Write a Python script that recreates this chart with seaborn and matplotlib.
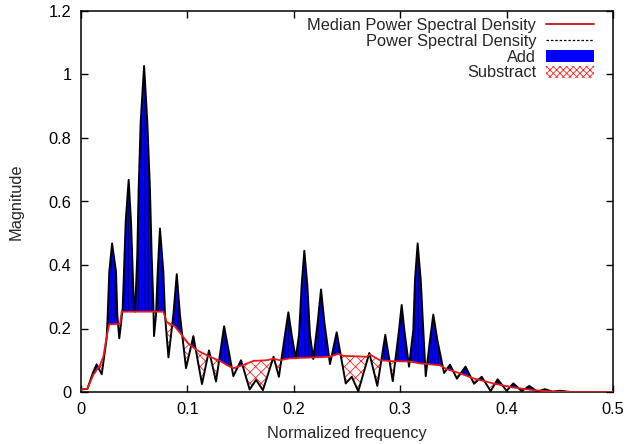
import numpy as np
import pandas as pd
import matplotlib
matplotlib.use("Agg")
import matplotlib.pyplot as plt
import seaborn as sns
from matplotlib.lines import Line2D
from matplotlib.patches import Patch

# ---- data ----
psd_x = [0, 0.006, 0.0116, 0.0147, 0.0195, 0.0241, 0.0251, 0.0266, 0.0292, 0.0329,
         0.0341, 0.036, 0.0392, 0.0404, 0.042, 0.0448, 0.047, 0.0486, 0.0498, 0.0508,
         0.0529, 0.0542, 0.0561, 0.0593, 0.0623, 0.0648, 0.0664, 0.0681, 0.0686, 0.0705,
         0.0721, 0.0742, 0.0774, 0.0789, 0.0822, 0.0868, 0.090, 0.093, 0.0987, 0.1056,
         0.1137, 0.1203, 0.1269, 0.1345, 0.1432, 0.1504, 0.1585, 0.1645, 0.171, 0.181,
         0.186, 0.1917, 0.1949, 0.198, 0.2018, 0.2049, 0.2074, 0.2099, 0.2127, 0.2152,
         0.2183, 0.2225, 0.2256, 0.2287, 0.234, 0.2403, 0.2488, 0.2545, 0.2606, 0.271,
         0.2785, 0.286, 0.293, 0.2989, 0.3014, 0.3039, 0.3083, 0.3123, 0.3139, 0.3164,
         0.3193, 0.3217, 0.324, 0.328, 0.3311, 0.3349, 0.3412, 0.3468, 0.3533, 0.3614,
         0.3694, 0.3766, 0.385, 0.3916, 0.400, 0.4063, 0.4142, 0.4213, 0.4289, 0.436,
         0.443, 0.450, 0.460, 0.500]
psd_y = [0.008, 0.010, 0.064, 0.087, 0.056, 0.169, 0.243, 0.379, 0.468, 0.379,
         0.243, 0.169, 0.265, 0.379, 0.536, 0.668, 0.536, 0.379, 0.265, 0.253,
         0.430, 0.640, 0.852, 1.027, 0.852, 0.640, 0.430, 0.264, 0.176, 0.243,
         0.379, 0.515, 0.379, 0.243, 0.109, 0.243, 0.371, 0.243, 0.075, 0.176,
         0.025, 0.131, 0.033, 0.207, 0.050, 0.100, 0.008, 0.038, 0.006, 0.111,
         0.048, 0.180, 0.251, 0.180, 0.106, 0.180, 0.337, 0.445, 0.337, 0.180,
         0.104, 0.221, 0.323, 0.221, 0.088, 0.188, 0.027, 0.048, 0.002, 0.123,
         0.019, 0.180, 0.034, 0.195, 0.274, 0.195, 0.080, 0.195, 0.353, 0.468,
         0.353, 0.195, 0.050, 0.164, 0.244, 0.164, 0.060, 0.086, 0.042, 0.080,
         0.026, 0.048, 0.003, 0.040, 0.004, 0.027, 0.003, 0.019, 0.001, 0.009,
         0.001, 0.004, 0.000, 0.000]

med_x = [0, 0.006, 0.0116, 0.0179, 0.021, 0.0241, 0.0265, 0.0367, 0.0382, 0.0774,
         0.0805, 0.0883, 0.0946, 0.1009, 0.1087, 0.1212, 0.1306, 0.137, 0.143, 0.1525,
         0.162, 0.1745, 0.181, 0.187, 0.196, 0.234, 0.2418, 0.2466, 0.2685, 0.2716,
         0.281, 0.2935, 0.3092, 0.3186, 0.3374, 0.3437, 0.356, 0.3687, 0.3875, 0.4063,
         0.425, 0.444, 0.46, 0.5]
med_y = [0.008, 0.010, 0.054, 0.085, 0.111, 0.174, 0.213, 0.214, 0.253, 0.253,
         0.221, 0.206, 0.180, 0.153, 0.132, 0.111, 0.098, 0.085, 0.075, 0.085,
         0.098, 0.100, 0.105, 0.100, 0.106, 0.111, 0.120, 0.114, 0.111, 0.118,
         0.100, 0.097, 0.096, 0.090, 0.084, 0.072, 0.059, 0.043, 0.027, 0.014,
         0.006, 0.001, 0.000, 0.000]

x_ticks = [0, 0.1, 0.2, 0.3, 0.4, 0.5]
x_tick_labels = ["0", "0.1", "0.2", "0.3", "0.4", "0.5"]
y_ticks = [0, 0.2, 0.4, 0.6, 0.8, 1.0, 1.2]
y_tick_labels = ["0", "0.2", "0.4", "0.6", "0.8", "1", "1.2"]
legend_labels = ["Median Power Spectral Density", "Power Spectral Density", "Add", "Substract"]

# ---- style ----
sns.set_style("ticks")
plt.rcParams["font.family"] = ["Liberation Sans", "DejaVu Sans"]
plt.rcParams["hatch.linewidth"] = 0.6
FS = 11.8

psd_df = pd.DataFrame({"freq": psd_x, "mag": psd_y})
med_df = pd.DataFrame({"freq": med_x, "mag": med_y})

fig = plt.figure(figsize=(6.28, 4.44), dpi=100)
ax = fig.add_axes([81 / 628, 52 / 444, 532 / 628, 381 / 444])

# fills between the two curves on their common grid
grid = np.union1d(psd_x, med_x)
p = np.interp(grid, psd_x, psd_y)
m = np.interp(grid, med_x, med_y)
ax.fill_between(grid, m, p, where=p >= m, interpolate=True,
                facecolor="#0000ff", edgecolor="#00005a", hatch="|||||", linewidth=0, zorder=1)
ax.fill_between(grid, m, p, where=p < m, interpolate=True,
                facecolor="white", edgecolor="#ff2020", hatch="xxx", linewidth=0, zorder=1)

sns.lineplot(data=psd_df, x="freq", y="mag", ax=ax, color="black", linewidth=1.4,
             estimator=None, sort=False, zorder=3)
sns.lineplot(data=med_df, x="freq", y="mag", ax=ax, color="#e8191c", linewidth=1.3,
             estimator=None, sort=False, zorder=4)

ax.set_xlim(0, 0.5)
ax.set_ylim(0, 1.2)
ax.set_xticks(x_ticks)
ax.set_xticklabels(x_tick_labels)
ax.set_yticks(y_ticks)
ax.set_yticklabels(y_tick_labels)
ax.tick_params(direction="in", top=True, right=True, length=5, width=1,
               labelsize=FS, pad=7, colors="black")
for s in ax.spines.values():
    s.set_visible(True)
    s.set_linewidth(1.1)
    s.set_color("black")

ax.set_xlabel("Normalized frequency", fontsize=FS, labelpad=7)
ax.set_ylabel("Magnitude", fontsize=FS, labelpad=18)

handles = [
    Line2D([], [], color="#c0141a", linewidth=1.3),
    Line2D([], [], color="black", linewidth=0.9, linestyle=(0, (2, 1.5))),
    Patch(facecolor="#0000ff", edgecolor="none"),
    Patch(facecolor="white", edgecolor="#ff2020", hatch="xxxxx", linewidth=0),
]
leg = ax.legend(handles, legend_labels, loc="upper right", bbox_to_anchor=(0.985, 1.012),
                frameon=False, markerfirst=False, fontsize=FS, handlelength=2.9,
                handleheight=0.75, labelspacing=0.05, handletextpad=0.6, borderpad=0.2)

fig.savefig("out.png", dpi=100)
